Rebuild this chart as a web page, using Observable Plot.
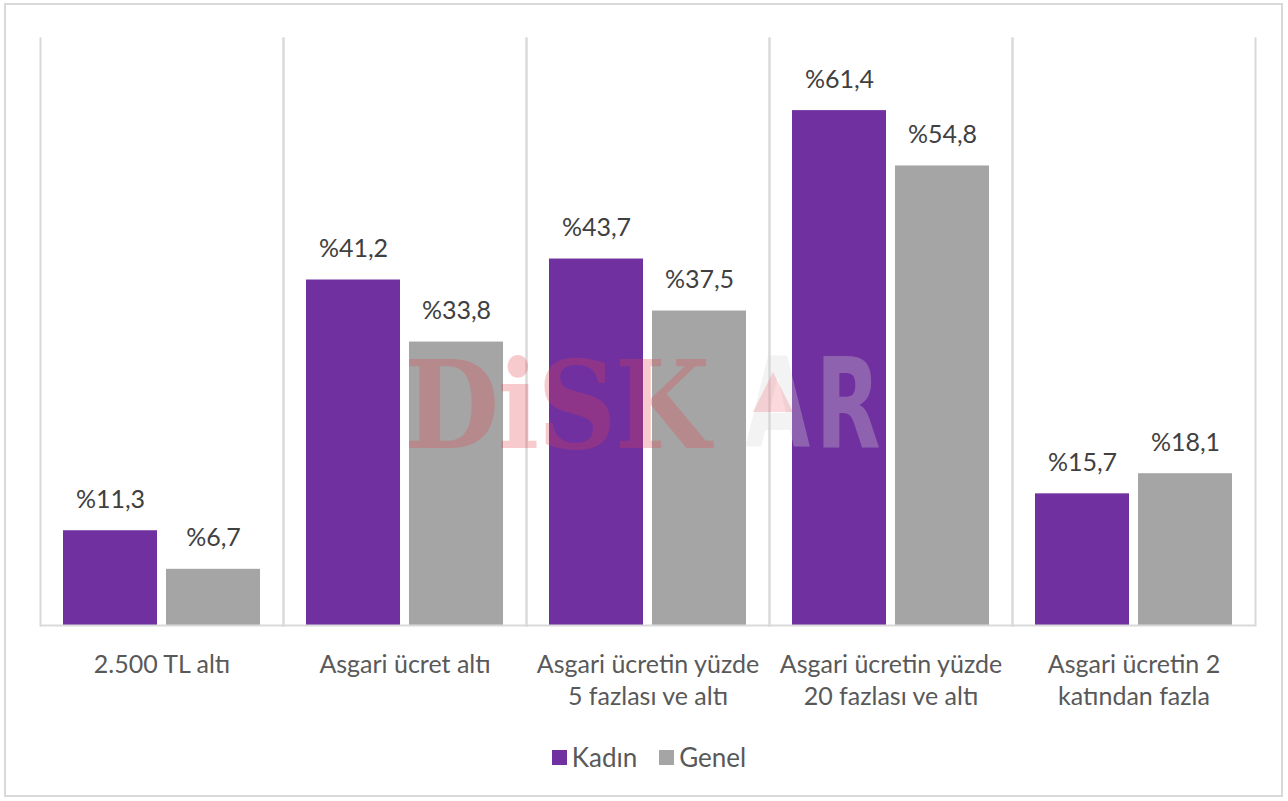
<!DOCTYPE html>
<html>
<head>
<meta charset="utf-8">
<script src="https://cdn.jsdelivr.net/npm/d3@7"></script>
<script src="https://cdn.jsdelivr.net/npm/@observablehq/plot@0.6"></script>
<style>
  html, body { margin: 0; padding: 0; background: #fff; }
  #wrap { position: relative; width: 1288px; height: 801px; overflow: hidden; font-family: Lato, "Open Sans", sans-serif; }
  #border { position: absolute; left: 4px; top: 3px; width: 1279px; height: 794px; border: 2px solid #d9d9d9; box-sizing: border-box; pointer-events: none; }
  #chart { position: absolute; left: 0; top: 0; }
  #legend { position: absolute; left: 0; top: 740px; width: 1288px; height: 34px; display: flex; justify-content: center; align-items: center; gap: 22px; font-size: 26px; color: #595959; padding-left: 10px; box-sizing: border-box; }
  .item { display: flex; align-items: center; gap: 5px; }
  .sw { width: 15px; height: 15px; display: inline-block; }
  .wm { position: absolute; white-space: nowrap; pointer-events: none; line-height: 1; transform-origin: 0 0; }
  #wm1 { left: 404px; top: 344px; font-family: "DejaVu Serif", serif; font-weight: bold; font-size: 122px; color: rgba(225, 70, 80, 0.28); letter-spacing: -2px; transform: scaleX(0.9); }
  #wm2 { left: 745px; top: 342px; font-family: "DejaVu Sans", sans-serif; font-weight: bold; font-size: 124px; color: rgba(215, 215, 215, 0.3); transform: scaleX(0.68); letter-spacing: 8px; }
  #tri { position: absolute; left: 753px; top: 372px; width: 0; height: 0; border-left: 20px solid transparent; border-right: 20px solid transparent; border-bottom: 40px solid rgba(235, 100, 110, 0.25); pointer-events: none; }
</style>
</head>
<body>
<div id="wrap">
  <div id="chart"></div>
  <div id="legend"></div>
  <div class="wm" id="wm1">DiSK</div>
  <div class="wm" id="wm2">AR</div>
  <div id="tri"></div>
  <div id="border"></div>
</div>
<script>
const categories = [
  "2.500 TL altı",
  "Asgari ücret altı",
  "Asgari ücretin yüzde 5 fazlası ve altı",
  "Asgari ücretin yüzde 20 fazlası ve altı",
  "Asgari ücretin 2 katından fazla"
];
const categoryLabels = [
  "2.500 TL altı",
  "Asgari ücret altı",
  "Asgari ücretin yüzde\n5 fazlası ve altı",
  "Asgari ücretin yüzde\n20 fazlası ve altı",
  "Asgari ücretin 2\nkatından fazla"
];
const series = ["Kadın", "Genel"];
const seriesColors = ["#7030A0", "#A5A5A5"];
const kadin = [11.3, 41.2, 43.7, 61.4, 15.7];
const genel = [6.7, 33.8, 37.5, 54.8, 18.1];

const data = [];
categories.forEach((c, i) => {
  data.push({category: c, series: "Kadın", value: kadin[i]});
  data.push({category: c, series: "Genel", value: genel[i]});
});
const labelOf = new Map(categories.map((c, i) => [c, categoryLabels[i]]));
const fmt = v => "%" + v.toFixed(1).replace(".", ",");

const chart = Plot.plot({
  width: 1288,
  height: 720,
  marginLeft: 40,
  marginRight: 33,
  marginTop: 38,
  marginBottom: 95,
  style: {fontFamily: "Lato, 'Open Sans', sans-serif", fontSize: "25px", color: "#595959", background: "transparent"},
  fx: {domain: categories, padding: 0, label: null, axis: null},
  x: {domain: series, paddingInner: 0.0874, paddingOuter: 0.223, axis: null},
  y: {domain: [0, 70], axis: null},
  color: {domain: series, range: seriesColors},
  marks: [
    Plot.frame({anchor: "left", stroke: "#d9d9d9", strokeWidth: 2}),
    Plot.frame({anchor: "right", stroke: "#d9d9d9", strokeWidth: 2}),
    Plot.barY(data, {fx: "category", x: "series", y: "value", fill: "series"}),
    Plot.ruleY([0], {stroke: "#d9d9d9", strokeWidth: 2}),
    Plot.text(data, {fx: "category", x: "series", y: "value", text: d => fmt(d.value), dy: -31, fill: "#404040", fontSize: 25}),
    Plot.axisFx({anchor: "bottom", tickSize: 0, tickPadding: 25, label: null, tickFormat: c => labelOf.get(c), lineHeight: 1.28, fontSize: 25, fill: "#595959"})
  ]
});
document.getElementById("chart").appendChild(chart);

const legend = document.getElementById("legend");
series.forEach((s, i) => {
  const item = document.createElement("div");
  item.className = "item";
  const sw = document.createElement("span");
  sw.className = "sw";
  sw.style.background = seriesColors[i];
  const t = document.createElement("span");
  t.textContent = s;
  item.appendChild(sw);
  item.appendChild(t);
  legend.appendChild(item);
});
</script>
</body>
</html>
